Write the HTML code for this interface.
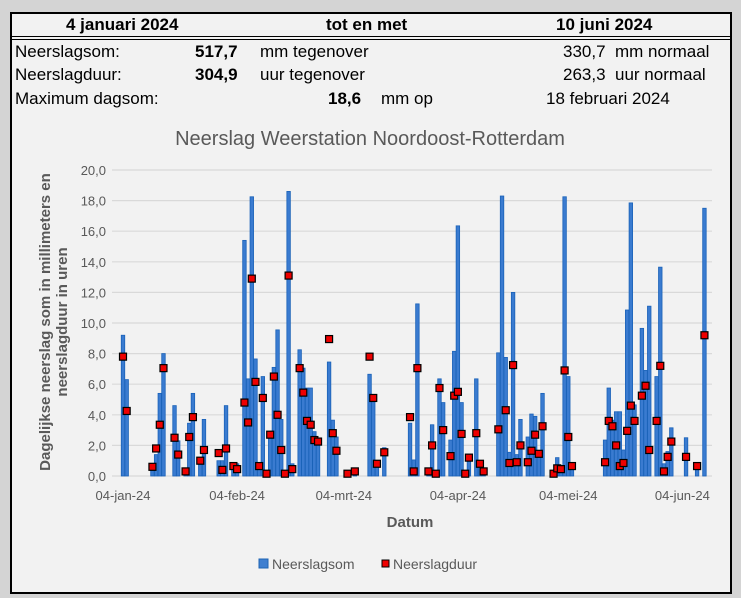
<!DOCTYPE html>
<html><head><meta charset="utf-8"><style>
body{margin:0;width:741px;height:598px;background:#d4d4d4;overflow:hidden;font-family:"Liberation Sans",sans-serif}
#frame{position:absolute;left:10px;top:12px;width:718px;height:578px;border:2px solid #000;background:#f2f2f2}
.t{position:absolute;font-size:17px;color:#000;white-space:nowrap;line-height:20px}
.b{font-weight:bold}
</style></head><body>
<div id="frame"></div>
<div style="position:absolute;left:12px;top:36px;width:718px;height:1px;background:#000"></div>
<div style="position:absolute;left:12px;top:39px;width:718px;height:1px;background:#000"></div>
<div class="t b" style="left:66px;top:15px">4 januari 2024</div>
<div class="t b" style="left:326px;top:15px">tot en met</div>
<div class="t b" style="left:556px;top:15px">10 juni 2024</div>
<div class="t" style="left:15px;top:42px">Neerslagsom:</div>
<div class="t b" style="left:195px;top:42px">517,7</div>
<div class="t" style="left:260px;top:42px">mm tegenover</div>
<div class="t" style="left:563px;top:42px">330,7&nbsp; mm normaal</div>
<div class="t" style="left:15px;top:65px">Neerslagduur:</div>
<div class="t b" style="left:195px;top:65px">304,9</div>
<div class="t" style="left:260px;top:65px">uur tegenover</div>
<div class="t" style="left:563px;top:65px">263,3&nbsp; uur normaal</div>
<div class="t" style="left:15px;top:89px">Maximum dagsom:</div>
<div class="t b" style="left:328px;top:89px">18,6</div>
<div class="t" style="left:381px;top:89px">mm op</div>
<div class="t" style="left:546px;top:89px">18 februari 2024</div>
<svg id="chart" width="741" height="598" style="position:absolute;left:0;top:0" font-family="Liberation Sans, sans-serif">
<text x="370" y="145" text-anchor="middle" font-size="20" fill="#595959">Neerslag Weerstation Noordoost-Rotterdam</text>
<g id="grid"></g><g id="bars"></g><g id="marks"></g>
<text x="410" y="527" text-anchor="middle" font-size="15" font-weight="bold" fill="#595959">Datum</text>
<g transform="translate(50,322) rotate(-90)" font-size="15" font-weight="bold" fill="#595959" text-anchor="middle">
<text x="0" y="0">Dagelijkse neerslag som in millimeters en</text><text x="0" y="17">neerslagduur in uren</text></g>
<g>
<rect x="259" y="559" width="9" height="9" fill="#3f7fd0" stroke="#1f64b4"/>
<text x="272" y="569" font-size="14" fill="#595959">Neerslagsom</text>
<rect x="382" y="560" width="7" height="7" fill="#e00" stroke="#000"/>
<text x="393" y="569" font-size="14" fill="#595959">Neerslagduur</text>
</g>
</svg>
<script>
const days=[0,1,8,9,10,11,14,15,17,18,19,21,22,26,27,28,30,31,33,34,35,36,37,38,39,40,41,42,43,44,45,46,48,49,50,51,52,53,56,57,58,61,63,67,68,69,71,78,79,80,83,84,85,86,87,89,90,91,92,93,94,96,97,98,102,103,104,105,106,107,108,110,111,112,113,114,117,118,119,120,121,122,131,132,133,134,135,136,137,138,139,141,142,143,145,146,147,148,149,153,156,158];
const rain=[9.2,6.3,0.6,1.4,5.4,8.0,4.6,2.3,0.1,3.45,5.4,0.8,3.7,1.0,1.0,4.6,0.6,0.8,15.4,6.35,18.25,7.65,0.6,6.5,0.1,2.6,7.1,9.55,3.7,0.1,18.6,0.8,8.25,7.05,5.75,5.75,2.9,2.25,7.45,3.65,2.55,0.1,0.2,6.65,5.15,0.7,1.85,3.45,1.05,11.25,0.3,3.35,0.1,6.35,4.8,2.35,8.15,16.35,4.8,0.1,1.0,6.35,0.6,0.3,8.05,18.3,7.75,1.55,12.0,1.4,3.7,2.55,4.05,3.9,1.4,5.4,0.1,1.2,0.6,18.25,6.5,0.65,2.35,5.75,3.65,4.2,4.2,1.7,10.85,17.85,4.65,9.65,6.9,11.1,6.5,13.65,0.8,1.6,3.15,2.5,0.65,17.5];
const duur=[7.8,4.25,0.6,1.8,3.35,7.05,2.5,1.4,0.3,2.55,3.85,1.0,1.7,1.5,0.4,1.8,0.65,0.45,4.8,3.5,12.9,6.15,0.65,5.1,0.15,2.7,6.5,4.0,1.7,0.15,13.1,0.45,7.05,5.45,3.6,3.35,2.35,2.25,8.95,2.8,1.65,0.15,0.3,7.8,5.1,0.8,1.55,3.85,0.3,7.05,0.3,2.0,0.15,5.75,3.0,1.3,5.25,5.5,2.75,0.15,1.2,2.8,0.8,0.3,3.05,null,4.3,0.85,7.25,0.9,2.0,0.9,1.65,2.7,1.45,3.25,0.15,0.5,0.45,6.9,2.55,0.65,0.9,3.6,3.25,2.0,0.65,0.85,2.95,4.6,3.6,5.25,5.9,1.7,3.6,7.2,0.3,1.25,2.25,1.25,0.65,9.2];
const yTicks=[0,2,4,6,8,10,12,14,16,18,20];
const xTickDays=[0,31,60,91,121,152];
const xTickLabels=["04-jan-24","04-feb-24","04-mrt-24","04-apr-24","04-mei-24","04-jun-24"];
const NS="http://www.w3.org/2000/svg";
const xs=d=>123+d*3.68, ys=v=>476-v*15.3;
function mk(tag,attrs,parent){const e=document.createElementNS(NS,tag);for(const k in attrs)e.setAttribute(k,attrs[k]);parent.appendChild(e);return e;}
const grid=document.getElementById('grid'),bars=document.getElementById('bars'),marks=document.getElementById('marks');
yTicks.forEach(v=>{
 const l=mk('line',{x1:112,x2:712,y1:ys(v),y2:ys(v),stroke:'#d9d9d9','stroke-width':1.2},grid);
 
 
 const t=mk('text',{x:106,y:ys(v)+5,'text-anchor':'end','font-size':13,fill:'#595959'},grid);
 t.textContent=v.toFixed(1).replace('.',',');
 
 
});
xTickDays.forEach((d,i)=>{
 const t=mk('text',{x:xs(d),y:500,'text-anchor':'middle','font-size':13,fill:'#595959'},grid);
 t.textContent=xTickLabels[i];
 
 
});
days.forEach((d,i)=>{
 const v=rain[i];
 const r=mk('rect',{x:xs(d)-1.75,y:ys(v),width:3.5,height:v*15.3,fill:'#3a7bd0',stroke:'#1a62b8','stroke-width':0.8},bars);
 
 
});
days.forEach((d,i)=>{
 const v=duur[i]; if(v===null)return;
 const m=mk('rect',{x:xs(d)-3.5,y:ys(v)-3.5,width:7,height:7,fill:'#e00',stroke:'#000','stroke-width':1.2},marks);
 
 
});
</script>
</body></html>
